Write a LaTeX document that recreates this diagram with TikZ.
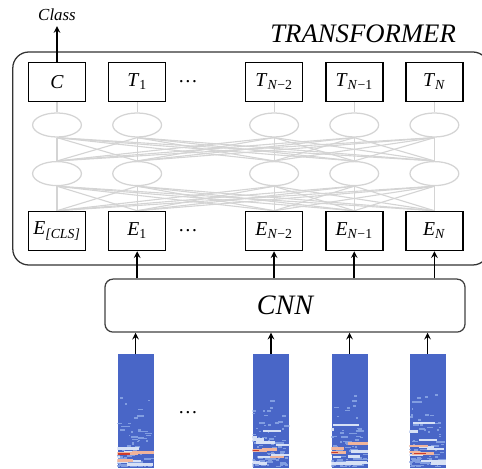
\documentclass[tikz,border=0pt]{standalone}
\usepackage{fontspec}
\setmainfont{Liberation Serif}
\usepackage{xcolor}
\usepackage{tikz}
\usetikzlibrary{shapes,arrows,positioning,calc,backgrounds}

\definecolor{edgegray}{RGB}{212,212,212}
\definecolor{specblue}{RGB}{73,102,199}
\definecolor{specpale}{RGB}{130,158,225}
\definecolor{specwhite}{RGB}{215,225,245}
\definecolor{specorange}{RGB}{240,180,155}
\definecolor{specred}{RGB}{205,60,45}

% token with italic letter and subscript
\newcommand{\tok}[2]{\textit{#1}\textsubscript{#2}}

% spectrogram streaks inside a spec node
\newcommand{\spectro}[2]{%
  \begin{scope}
    \clip (#1.south west) rectangle (#1.north east);
    \pgfmathsetseed{#2}
    % faint partials, crowded near the low bins
    \foreach \k in {1,...,90}{
      \pgfmathsetmacro{\sx}{-0.1+0.9*rnd}
      \pgfmathsetmacro{\sy}{0.02+1.9*rnd*rnd}
      \pgfmathsetmacro{\sw}{0.04+0.25*rnd*rnd}
      \fill[specpale] ($(#1.south west)+(\sx,\sy)$) rectangle ++(\sw,0.04);
    }
    % strong partials
    \foreach \k in {1,...,9}{
      \pgfmathsetmacro{\sx}{-0.3+0.9*rnd}
      \pgfmathsetmacro{\sy}{0.06+1.2*rnd*rnd}
      \pgfmathsetmacro{\sw}{0.2+0.5*rnd}
      \fill[specwhite] ($(#1.south west)+(\sx,\sy)$) rectangle ++(\sw,0.06);
    }
    % loudest bins
    \foreach \k in {1,2}{
      \pgfmathsetmacro{\sx}{-0.3+0.8*rnd}
      \pgfmathsetmacro{\sy}{0.15+0.45*rnd}
      \pgfmathsetmacro{\sw}{0.3+0.4*rnd}
      \fill[specorange] ($(#1.south west)+(\sx,\sy)$) rectangle ++(\sw,0.07);
    }
    \pgfmathsetmacro{\sx}{-0.2+0.6*rnd}
    \pgfmathsetmacro{\sy}{0.2+0.25*rnd}
    \fill[specorange] ($(#1.south west)+(\sx,\sy)$) rectangle ++(0.55,0.08);
    \fill[specred] ($(#1.south west)+(\sx+0.05,\sy+0.02)$) rectangle ++(0.3,0.04);
  \end{scope}}

\begin{document}
\begin{tikzpicture}[
    node distance=0.54cm,
    token/.style={rectangle, draw=black, line width=1.1pt, minimum width=1.425cm, minimum height=0.975cm, inner sep=0pt, font=\fontsize{14}{16}\selectfont},
    hidden/.style={ellipse, draw=edgegray, line width=0.9pt, minimum width=1.22cm, minimum height=0.6cm, inner sep=0pt},
    link/.style={draw=edgegray, line width=0.8pt},
    frame/.style={rectangle, draw=black!80, line width=0.9pt, rounded corners=0.4cm},
    block/.style={rectangle, draw=black!75, line width=0.9pt, rounded corners=0.2cm},
    spec/.style={rectangle, fill=specblue, minimum width=0.9cm, minimum height=2.85cm, inner sep=0pt},
    gap/.style={font=\fontsize{14}{16}\selectfont},
    arrow/.style={->,>=stealth,line width=1.1pt}
]
\useasboundingbox (0,0) rectangle (12.05,11.7);

% Transformer frame
\node[frame, minimum width=11.9cm, minimum height=5.325cm] (transformer) at (6.27,7.7375) {};
\node[anchor=base east, font=\fontsize{19}{21}\selectfont\itshape] (trlabel) at (11.52,10.625) {TRANSFORMER};

% Output tokens
\node[token] (out1) at (1.425,9.65) {\textit{C}};
\node[token, right=of out1] (out2) {\tok{T}{1}};
\node[token, right=1.96cm of out2] (out3) {\tok{T}{\textit{N}−2}};
\node[token, right=of out3] (out4) {\tok{T}{\textit{N}−1}};
\node[token, right=of out4] (out5) {\tok{T}{\textit{N}}};
\node[gap] (dotsout) at (4.7,9.65) {\dots};

% Class output
\node[font=\fontsize{12}{14}\selectfont\itshape] (cls) at (1.425,11.32) {Class};
\draw[arrow] (out1) -- (cls);

% Input embeddings
\node[token] (emb1) at (1.425,5.925) {\tok{E}{\textit{[CLS]}}};
\node[token, right=of emb1] (emb2) {\tok{E}{1}};
\node[token, right=1.96cm of emb2] (emb3) {\tok{E}{\textit{N}−2}};
\node[token, right=of emb3] (emb4) {\tok{E}{\textit{N}−1}};
\node[token, right=of emb4] (emb5) {\tok{E}{\textit{N}}};
\node[gap] (dotsemb) at (4.7,5.925) {\dots};

% Hidden layers
\foreach \i in {1,...,5}{
  \path (out\i) ++(0,-1.075) node[hidden] (hu\i) {};
  \path (out\i) ++(0,-2.29) node[hidden] (hl\i) {};
}

\begin{scope}[on background layer]
\foreach \i in {1,...,5}{
  \draw[link] (out\i) -- (hu\i);
  \foreach \j in {1,...,5}{
    \draw[link] (hu\i.south) -- (hl\j.north);
    \draw[link] (hl\i.south) -- (emb\j.north);
  }
}
\end{scope}

% CNN
\node[block, minimum width=9cm, minimum height=1.325cm, font=\fontsize{20}{22}\selectfont\itshape] (cnn) at (7.125,4.06) {CNN};

% Spectrograms
\node[spec] (spec1) at (3.39,1.425) {};
\node[spec] (spec2) at (6.775,1.425) {};
\node[spec] (spec3) at (8.74,1.425) {};
\node[spec] (spec4) at (10.69,1.425) {};
\node[gap] (dotsspec) at (4.7,1.375) {\dots};

\spectro{spec1}{11}
\spectro{spec2}{23}
\spectro{spec3}{37}
\spectro{spec4}{58}

% Arrows
\foreach \i in {1,...,4}{
  \draw[arrow] (spec\i) -- (spec\i |- cnn.south);
}
\foreach \i in {2,...,5}{
  \draw[arrow] (cnn.north -| emb\i) -- (emb\i);
}

\end{tikzpicture}
\end{document}
